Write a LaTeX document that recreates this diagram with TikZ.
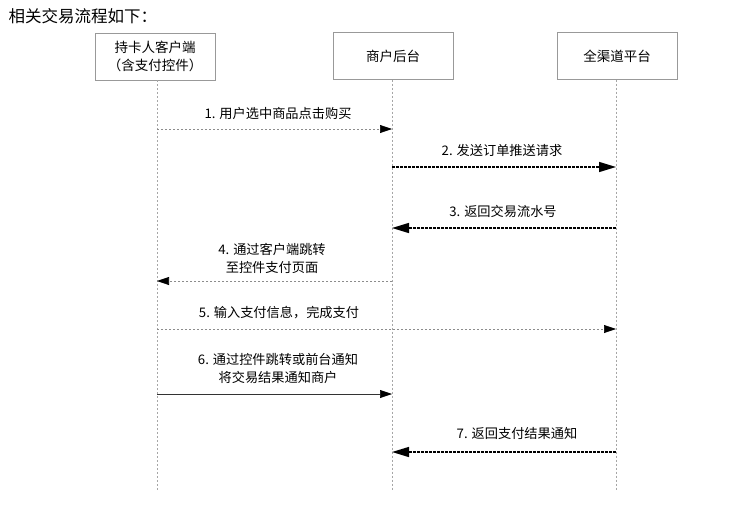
\documentclass[tikz,border=0pt]{standalone}
\usepackage{fontspec}
\newfontfamily\cjk{Noto Sans CJK SC}
\usetikzlibrary{arrows.meta}
\tikzset{
  actor/.style={draw=gray!80, rectangle, minimum width=120pt, minimum height=47pt, align=center, font=\cjk\fontsize{13.5}{18}\selectfont},
  lifeline/.style={draw=gray!70, dash pattern=on 2pt off 2pt, line width=0.5pt},
  msg/.style={font=\cjk\fontsize{13.2}{18}\selectfont, align=center},
  dotmsg/.style={draw=gray!90, dash pattern=on 2pt off 2pt, line width=0.6pt, -{Triangle[length=12pt,width=8pt,color=black]}},
  boldmsg/.style={draw=black, dash pattern=on 3pt off 1pt, line width=1.4pt, -{Triangle[length=17pt,width=10pt]}},
  plainmsg/.style={draw=black!80, line width=0.6pt, -{Triangle[length=12pt,width=8pt,color=black]}}
}
\begin{document}
\begin{tikzpicture}[x=1pt,y=-1pt]
            \useasboundingbox (0,0) rectangle (742,504);
            % Title
            \node[anchor=west, font=\cjk\fontsize{16.5}{18}\selectfont] (title) at (5,16) {相关交易流程如下：};
            % Participants
            \node[actor] (client) at (155,56.5) {持卡人客户端\\（含支付控件）};
            \node[actor] (merchant) at (393,56) {商户后台};
            \node[actor] (platform) at (617,56) {全渠道平台};
            % Lifeline ends
            \coordinate (clientEnd) at (157,490);
            \coordinate (merchantEnd) at (392,490);
            \coordinate (platformEnd) at (616,490);
            \draw[lifeline] (client.south -| clientEnd) -- (clientEnd);
            \draw[lifeline] (merchant.south -| merchantEnd) -- (merchantEnd);
            \draw[lifeline] (platform.south -| platformEnd) -- (platformEnd);
            % Message points on the lifelines
            \foreach \n/\y in {1/129,2/167,3/228,4/281,5/329,6/394,7/452} {
                \coordinate (c\n) at (157,\y);
                \coordinate (m\n) at (392,\y);
                \coordinate (p\n) at (616,\y);
            }
            % Messages
            \draw[dotmsg] (c1) -- (m1);
            \node[msg] (lab1) at (278,113) {1. 用户选中商品点击购买};
            \draw[boldmsg] (m2) -- (p2);
            \node[msg] (lab2) at (502,150) {2. 发送订单推送请求};
            \draw[boldmsg] (p3) -- (m3);
            \node[msg] (lab3) at (503,211) {3. 返回交易流水号};
            \draw[dotmsg] (m4) -- (c4);
            \node[msg] (lab4) at (272,258) {4. 通过客户端跳转\\至控件支付页面};
            \draw[dotmsg] (c5) -- (p5);
            \node[msg] (lab5) at (279,313) {5. 输入支付信息，完成支付};
            \draw[plainmsg] (c6) -- (m6);
            \node[msg] (lab6) at (278,368) {6. 通过控件跳转或前台通知\\将交易结果通知商户};
            \draw[boldmsg] (p7) -- (m7);
            \node[msg] (lab7) at (517,433) {7. 返回支付结果通知};
        \end{tikzpicture}
\end{document}
